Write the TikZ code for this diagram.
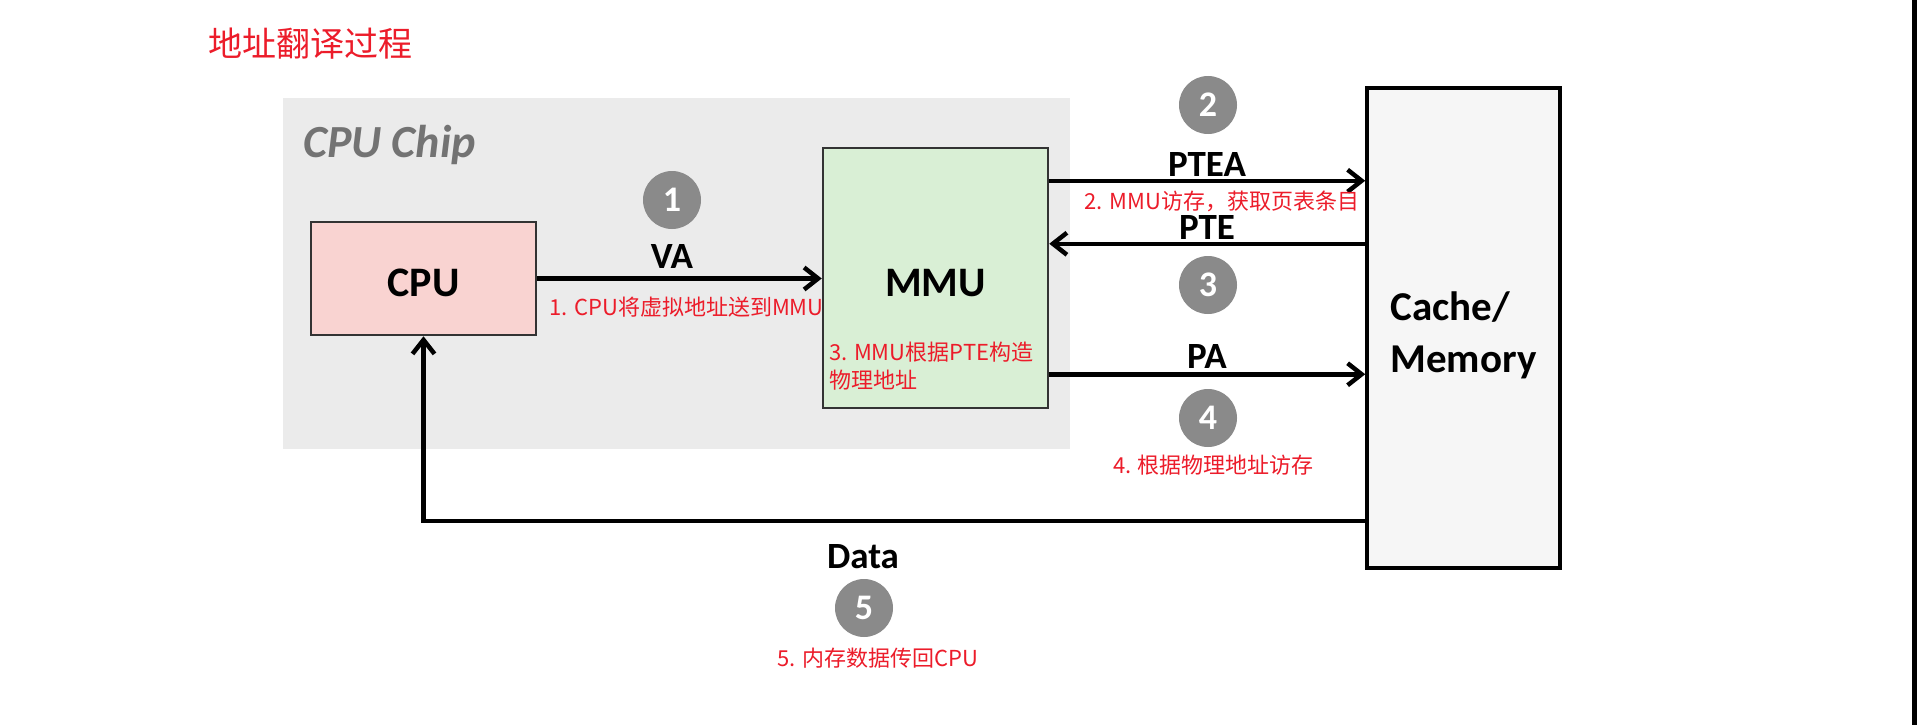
\documentclass[tikz,border=0pt]{standalone}
\usepackage{fontspec}
\setmainfont{Carlito}
\newfontfamily\cjk{Noto Sans CJK SC}
\usetikzlibrary{arrows.meta,positioning}
\definecolor{chipgray}{HTML}{EBEBEB}
\definecolor{cpupink}{HTML}{F9D3D1}
\definecolor{mmugreen}{HTML}{D9EFD5}
\definecolor{memgray}{HTML}{F6F6F6}
\definecolor{stepgray}{HTML}{8A8A8A}
\definecolor{notered}{HTML}{EC1C2A}

\begin{document}
\begin{tikzpicture}[x=1pt, y=-1pt,
  box/.style={draw=black!80, line width=2.5pt, minimum width=225pt, text height=36pt, text depth=0pt, align=center, font=\fontsize{42}{53}\selectfont\bfseries},
  sig/.style={inner sep=0pt, font=\fontsize{37}{40}\selectfont\bfseries},
  stepnum/.style={circle, fill=stepgray, text=white, minimum size=58pt, inner sep=0pt, font=\fontsize{36}{36}\selectfont\bfseries},
  note/.style={text=notered, inner sep=0pt, align=left, font=\cjk\fontsize{22}{28}\selectfont},
  arrow/.style={-{Straight Barb[length=14pt,width=22pt]}, line width=4.5pt}
]
\fill[white] (0,0) rectangle (1917,725);
\node[text=notered, inner sep=0pt, font=\cjk\fontsize{34}{34}\selectfont] (title) at (310.5,44) {地址翻译过程};

\node[fill=chipgray, minimum width=787pt, minimum height=351pt, inner sep=0pt] (chip) at (676.5,273.5) {};
\node[anchor=base west, text=black!55, inner sep=0pt, font=\fontsize{46}{46}\selectfont\bfseries\itshape] (chipname) at (303,157) {CPU Chip};

\node[box, fill=cpupink, minimum height=113pt] (cpu) at (423.5,278.5) {CPU};
\node[box, fill=mmugreen, minimum height=260pt] (mmu) at (935.5,278) {MMU};
\node[box, draw=black, line width=3.5pt, fill=memgray, minimum width=193pt, minimum height=480pt] (mem) at (1463.5,328) {};
\node[align=left, inner sep=0pt, font=\fontsize{41}{52}\selectfont\bfseries] (memname) at ([yshift=-7pt]mem.center) {Cache/\\Memory};

\draw[arrow] (cpu.east) -- (cpu.east -| mmu.west);
\draw[arrow] ([yshift=-34pt]mmu.north east) -- ([yshift=-34pt]mmu.north east -| mem.west);
\draw[arrow] ([yshift=-97pt]mmu.north east -| mem.west) -- ([yshift=-97pt]mmu.north east);
\draw[arrow] ([yshift=35pt]mmu.south east) -- ([yshift=35pt]mmu.south east -| mem.west);
\coordinate (dataline) at (1367,521);
\draw[arrow] (mem.west |- dataline) -| (cpu.south);

\node[sig] (va) at (672,257) {VA};
\node[sig] (ptea) at (1207,165) {PTEA};
\node[sig] (pte) at (1207,228) {PTE};
\node[sig] (pa) at (1207,357) {PA};
\node[sig] (data) at (863,557) {Data};

\node[stepnum] (s1) at (672,200) {1};
\node[stepnum] (s2) at (1208,105) {2};
\node[stepnum] (s3) at (1208,285) {3};
\node[stepnum] (s4) at (1208,418) {4};
\node[stepnum] (s5) at (864,608) {5};

\node[note] (n1) at (686.5,307) {1. CPU将虚拟地址送到MMU};
\node[note] (n2) at (1222,201) {2. MMU访存，获取页表条目};
\node[note, anchor=west] (n3) at (829,366) {3. MMU根据PTE构造\\物理地址};
\node[note] (n4) at (1213.5,465) {4. 根据物理地址访存};
\node[note] (n5) at (878,658) {5. 内存数据传回CPU};

\fill[black] (1912,0) rectangle (1917,725);
\end{tikzpicture}
\end{document}
